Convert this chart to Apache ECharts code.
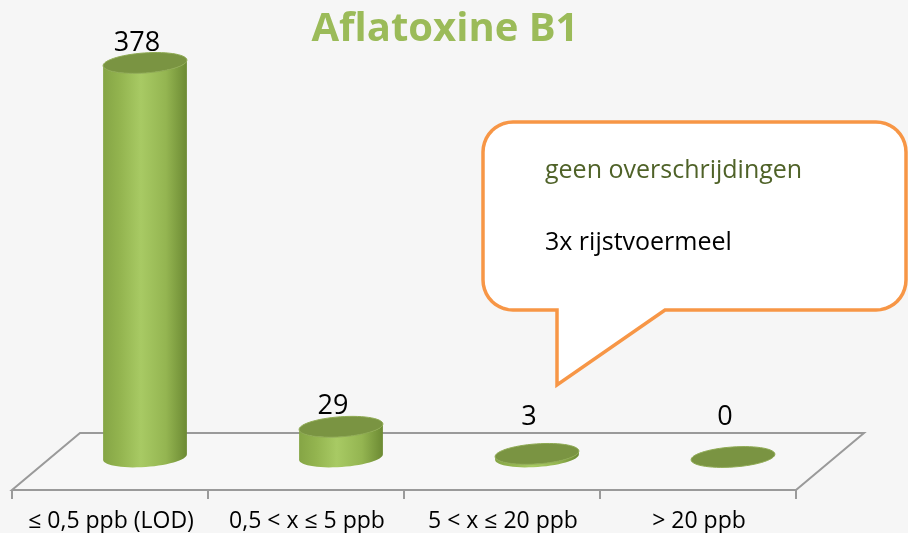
<!DOCTYPE html>
<html><head><meta charset="utf-8">
<script src="https://cdn.jsdelivr.net/npm/echarts@6/dist/echarts.min.js"></script>
<style>html,body{margin:0;padding:0;background:#f6f6f6}#c{width:908px;height:533px}</style>
</head><body><div id="c"></div>
<script>
const categories = ['≤ 0,5 ppb (LOD)', '0,5 < x ≤ 5 ppb', '5 < x ≤ 20 ppb', '> 20 ppb'];
const values = [378, 29, 3, 0];
const titleText = 'Aflatoxine B1';
const calloutLines = ['geen overschrijdingen', '3x rijstvoermeel'];

const FONT = '"Open Sans", "Noto Sans", sans-serif';
const RX = 42, RY = 10, TILT = -4 * Math.PI / 180;
function ellPts(cx, cy, t0, t1, n) {
  const pts = [];
  for (let k = 0; k <= n; k++) {
    const t = t0 + (t1 - t0) * k / n;
    const ex = RX * Math.cos(t), ey = RY * Math.sin(t);
    pts.push([cx + ex * Math.cos(TILT) - ey * Math.sin(TILT), cy + ex * Math.sin(TILT) + ey * Math.cos(TILT)]);
  }
  return pts;
}
function arcPts(cx, cy, r, a0, a1, n) {
  const pts = [];
  for (let k = 0; k <= n; k++) {
    const a = a0 + (a1 - a0) * k / n;
    pts.push([cx + r * Math.cos(a), cy + r * Math.sin(a)]);
  }
  return pts;
}

const chart = echarts.init(document.getElementById('c'), null, {renderer: 'canvas'});
chart.setOption({
  backgroundColor: '#f6f6f6',
  animation: false,
  title: {
    text: titleText, left: 440, top: 5, textAlign: 'center',
    textStyle: {fontFamily: FONT, fontWeight: 'bold', fontSize: 40, color: '#9bbb59'}
  },
  grid: {left: 47, right: 77, top: 40, bottom: 76},
  xAxis: {
    type: 'category', data: categories,
    axisLine: {show: false}, axisTick: {show: false}, splitLine: {show: false},
    axisLabel: {margin: 53, padding: [0, 68, 0, 0], fontFamily: FONT, fontSize: 23, color: '#000', interval: 0}
  },
  yAxis: {type: 'value', min: 0, max: 400, show: false},
  series: [{
    type: 'custom', z: 5,
    data: values.map((v, i) => [i, v]),
    encode: {x: 0, y: 1},
    renderItem(params, api) {
      const i = api.value(0), v = api.value(1);
      const top = api.coord([i, v]), base = api.coord([i, 0]);
      const cx = top[0], ty = top[1], by = base[1];
      const body = ellPts(cx, by, 0, Math.PI, 30).concat(ellPts(cx, ty, Math.PI, 0, 30));
      const grad = new echarts.graphic.LinearGradient(0, 0, 1, 0, [
        {offset: 0, color: '#85a545'}, {offset: 0.2, color: '#93b44f'},
        {offset: 0.45, color: '#a8ca64'}, {offset: 0.75, color: '#94b551'},
        {offset: 1, color: '#6c8a33'}
      ]);
      return {
        type: 'group',
        children: [
          {type: 'polygon', shape: {points: body}, style: {fill: grad}},
          {type: 'polygon', shape: {points: ellPts(cx, ty, 0, 2 * Math.PI, 60)},
           style: {fill: '#7a9442', stroke: '#8eaa52', lineWidth: 1}},
          {type: 'text', style: {
            x: cx - 8, y: Math.min(ty - 20, by - 40), text: String(v),
            align: 'center', verticalAlign: 'middle',
            font: '27px ' + FONT, fill: '#000'
          }}
        ]
      };
    }
  }]
});

// floor plane and ticks derived from the axes
const c0 = chart.convertToPixel({xAxisIndex: 0}, 0);
const c1 = chart.convertToPixel({xAxisIndex: 0}, 1);
const by = chart.convertToPixel({yAxisIndex: 0}, 0);
const band = c1 - c0;
const bounds = [];
for (let k = 0; k <= categories.length; k++) bounds.push(c0 - band / 2 + k * band);
const FX = -35, FY = 33, BX = 33, BY = -24;
const n = bounds.length - 1;
const graphics = [{
  type: 'polygon', z: 0, silent: true,
  shape: {points: [[bounds[0] + FX, by + FY], [bounds[n] + FX, by + FY], [bounds[n] + BX, by + BY], [bounds[0] + BX, by + BY]]},
  style: {stroke: '#9a9a9a', lineWidth: 2, fill: '#f7f7f7'}
}];
bounds.forEach(b => graphics.push({
  type: 'line', z: 0, silent: true,
  shape: {x1: b + FX, y1: by + FY, x2: b + FX, y2: by + FY + 9},
  style: {stroke: '#9a9a9a', lineWidth: 2}
}));
// callout box with tail
const L = 483, T = 122, R = 906, B = 310, r = 30;
let cp = [];
cp = cp.concat(arcPts(L + r, T + r, r, Math.PI, 1.5 * Math.PI, 10));
cp = cp.concat(arcPts(R - r, T + r, r, 1.5 * Math.PI, 2 * Math.PI, 10));
cp = cp.concat(arcPts(R - r, B - r, r, 0, 0.5 * Math.PI, 10));
cp.push([665, B], [557, 385], [557, B]);
cp = cp.concat(arcPts(L + r, B - r, r, 0.5 * Math.PI, Math.PI, 10));
graphics.push({
  type: 'polygon', z: 10, silent: true,
  shape: {points: cp},
  style: {fill: '#ffffff', stroke: '#f79646', lineWidth: 3.5, lineJoin: 'miter'}
});
graphics.push({
  type: 'text', z: 11, silent: true, x: 545, y: 171,
  style: {text: calloutLines[0], verticalAlign: 'middle', font: '25px ' + FONT, fill: '#4f6228'}
});
graphics.push({
  type: 'text', z: 11, silent: true, x: 545, y: 243,
  style: {text: calloutLines[1], verticalAlign: 'middle', font: '25px ' + FONT, fill: '#000000'}
});
chart.setOption({graphic: graphics});
</script>
</body></html>
